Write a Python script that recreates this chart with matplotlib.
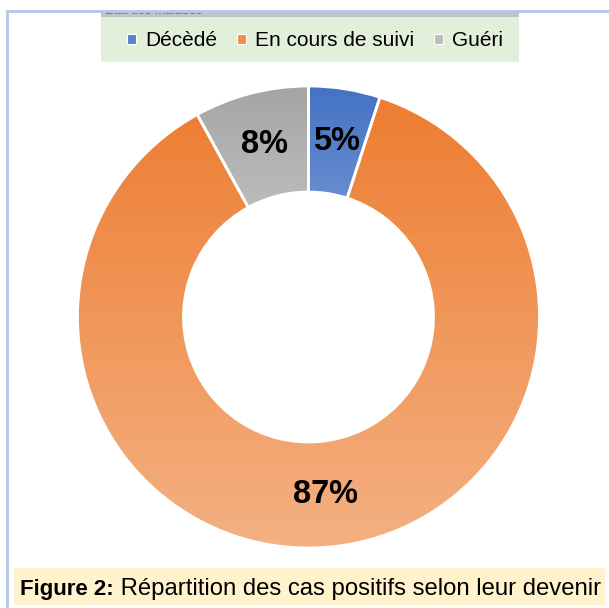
import numpy as np
import matplotlib
matplotlib.use("Agg")
import matplotlib.pyplot as plt
from matplotlib.patches import Rectangle, Patch
from matplotlib.colors import LinearSegmentedColormap
from matplotlib.transforms import Bbox, TransformedBbox

categories = ["Décèdé", "En cours de suivi", "Guéri"]
values = [5, 87, 8]
legend_title = "Etat des malades"
caption_bold = "Figure 2:"
caption_rest = " Répartition des cas positifs selon leur devenir"

top_colors = ["#4472C4", "#ED7D31", "#A5A5A5"]
bottom_colors = ["#8EA9DB", "#F4B183", "#D0D0D0"]
legend_colors = ["#5A82C9", "#F0904F", "#BDBDBD"]

FONT = ["Liberation Sans", "DejaVu Sans"]

W, H = 609, 608
fig = plt.figure(figsize=(W / 100, H / 100), dpi=100)
ax = fig.add_axes([0, 0, 1, 1])

cx, cy, R, width = 308.5, H - 317, 231, 106
wedges, _, autotexts = ax.pie(values, startangle=90, counterclock=False, radius=R,
                              center=(cx, cy), autopct=lambda p: f"{p:.0f}%",
                              pctdistance=0.77,
                              wedgeprops=dict(width=width, edgecolor="white", linewidth=2),
                              textprops=dict(fontsize=23.5, fontweight="bold",
                                             family=FONT, color="black"))
ax.set_xlim(0, W)
ax.set_ylim(0, H)
ax.set_aspect("auto")
ax.axis("off")

for w, tc, bc in zip(wedges, top_colors, bottom_colors):
    path = w.get_path()
    verts = w.get_transform().transform(path.vertices)
    verts = ax.transData.inverted().transform(verts)
    x0, y0 = verts.min(axis=0)
    x1, y1 = verts.max(axis=0)
    cmap = LinearSegmentedColormap.from_list("g", [bc, tc])
    grad = np.linspace(0, 1, 256).reshape(-1, 1)
    im = ax.imshow(grad, cmap=cmap, extent=[x0, x1, y0, y1], origin="lower",
                   aspect="auto", zorder=1, interpolation="bilinear")
    im.set_clip_path(w)
    w.set_facecolor("none")
    w.set_zorder(2)
for t in autotexts:
    t.set_zorder(3)
ax.set_xlim(0, W)
ax.set_ylim(0, H)

# legend box
ax.add_patch(Rectangle((101, H - 62), 418, 51, facecolor="#E2EFDA", edgecolor="none", zorder=1))
strip = Rectangle((101, H - 17), 418, 6, facecolor="#C3C3C3", edgecolor="none", zorder=2)
ax.add_patch(strip)
tt = ax.text(105, H - 14, legend_title, fontsize=9, color="#707070", family=FONT,
             va="baseline", ha="left", zorder=3, clip_on=True)
tt.set_clip_box(TransformedBbox(Bbox([[101, H - 17], [519, H - 11]]), ax.transData))
handles = [Patch(facecolor=c, edgecolor="white", linewidth=0.8) for c in legend_colors]
leg = ax.legend(handles, categories, loc="center", bbox_to_anchor=(315 / W, 1 - 41 / H),
                ncol=3, frameon=False, handlelength=0.42, handleheight=0.42,
                handletextpad=0.45, columnspacing=0.95,
                prop=dict(family=FONT, size=15))

# caption
ax.add_patch(Rectangle((14, H - 605), 591, 37, facecolor="#FFF2CC", edgecolor="none", zorder=1))
t1 = ax.text(20, H - 595, caption_bold, fontsize=16, fontweight="bold", family=FONT,
             va="baseline", ha="left", zorder=3)
fig.canvas.draw()
bb = t1.get_window_extent()
x_end = ax.transData.inverted().transform((bb.x1, bb.y0))[0]
ax.text(x_end, H - 595, caption_rest, fontsize=17.2, family=FONT,
        va="baseline", ha="left", zorder=3)

# frame lines
ax.plot([6, W], [H - 10.5, H - 10.5], color="#B4C7E7", lw=2, zorder=4, solid_capstyle="butt")
ax.plot([6.5, 6.5], [0, H - 10], color="#B4C7E7", lw=2, zorder=4, solid_capstyle="butt")

fig.savefig("out.png", dpi=100)
